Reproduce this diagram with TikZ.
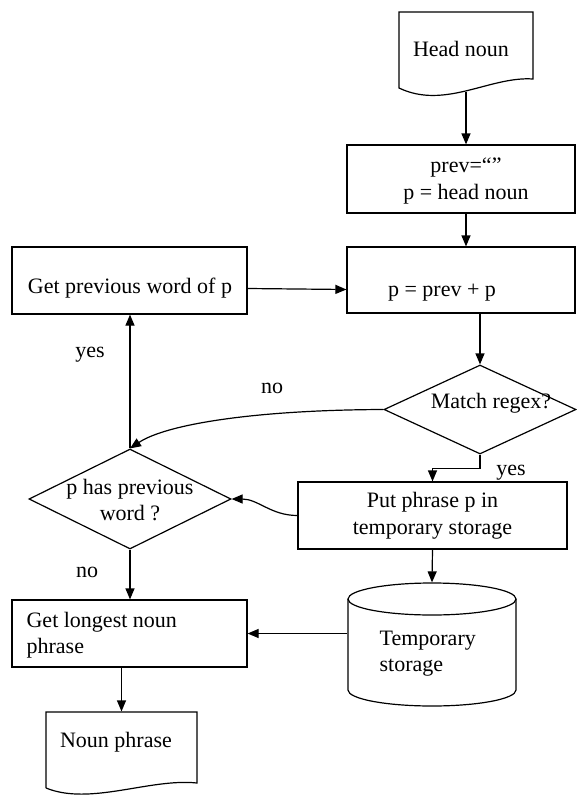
\documentclass[tikz,border=0pt]{standalone}
\usepackage{fontspec}
\setmainfont{Liberation Serif}
\usetikzlibrary{arrows.meta,shapes.geometric}
\begin{document}
\begin{tikzpicture}[x=1pt,y=-1pt,
  font=\fontsize{22}{26.5}\selectfont,
  line width=1.2pt,
  box/.style={draw, rectangle, inner sep=0pt},
  ghost/.style={rectangle, inner sep=0pt},
  lbl/.style={inner sep=0pt},
  dia/.style={draw, diamond, inner sep=0pt},
  arr/.style={-{Triangle[length=11pt,width=9pt]}}]
\useasboundingbox (0,0) rectangle (576,798);

% Head noun document
\node[ghost, minimum width=134pt, minimum height=76pt] (head) at (466,50) {};
\draw (399,12) -- (533,12) -- (533,79) .. controls (490,76) and (445,110) .. (399,88) -- cycle;
\node[lbl, anchor=base] (headt) at (461,56) {Head noun};

% prev box
\node[box, minimum width=228pt, minimum height=68pt] (prev) at (461,179) {};
\node[lbl, align=center] (prevt) at (466,181) {prev=“”\\p = head noun};

% p = prev + p
\node[box, minimum width=228pt, minimum height=66pt] (pp) at (461,280) {};
\node[lbl, anchor=base] (ppt) at (442,296) {p = prev + p};

% Get previous word of p
\node[box, minimum width=235pt, minimum height=67pt] (gp) at (129.5,280.5) {};
\node[lbl, anchor=base] (gpt) at (130,293) {Get previous word of p};

% Match regex diamond
\node[dia, minimum width=192pt, minimum height=89pt] (match) at (480,409.5) {};
\node[lbl, anchor=base] (matcht) at (491,408) {Match regex?};

% p has previous word diamond
\node[dia, minimum width=202pt, minimum height=100pt] (phas) at (130,499) {};
\node[lbl, align=center] (phast) at (130,500) {p has previous\\word ?};

% Put phrase box
\node[box, minimum width=269pt, minimum height=67pt, align=center] (put) at (432.5,515.5) {Put phrase p in\\temporary storage};

% Temporary storage cylinder
\node[ghost, minimum width=168pt, minimum height=107pt] (store) at (432,636.5) {};
\draw (348,599) -- (348,690) arc[start angle=180, end angle=0, x radius=84, y radius=16] -- (516,599);
\draw (432,599) ellipse[x radius=84, y radius=16];
\node[lbl, align=left, anchor=north west] (storet) at (379,630) {Temporary\\storage};

% Get longest noun phrase
\node[box, minimum width=235pt, minimum height=67pt] (gl) at (129.5,633.5) {};
\node[lbl, align=left, anchor=west] (glt) at (26,635) {Get longest noun\\phrase};

% Noun phrase document
\node[ghost, minimum width=151pt, minimum height=76pt] (noun) at (121.5,750) {};
\draw (46,788) -- (46,712) -- (197,712) -- (197,783) .. controls (150,778) and (90,806) .. (46,788);
\node[lbl, anchor=base] (nount) at (116,747) {Noun phrase};

% labels
\node[lbl, anchor=base] (yes1) at (90,357) {yes};
\node[lbl, anchor=base] (no1) at (272,393) {no};
\node[lbl, anchor=base] (yes2) at (511,475) {yes};
\node[lbl, anchor=base] (no2) at (87,577) {no};

% connectors
\draw[arr] ([yshift=-3pt]head.south) -- (head.south |- prev.north);
\draw[arr] (prev.south -| prevt) -- (pp.north -| prevt);
\draw[arr] (match.north |- pp.south) -- (match.north);
\draw[arr] ([yshift=-8pt]gp.east) -- ([yshift=-9.5pt]pp.west);
\draw[arr] (match.west) .. controls (250,410) and (165,425) .. (phas.north);
\draw[arr] (match.south) -- ++(0,14) -| (put.north);
\draw[arr] (put.west) to[out=180,in=0] (phas.east);
\draw[arr] (phas.north) -- (phas.north |- gp.south);
\draw[arr] (phas.south) -- (phas.south |- gl.north);
\draw[arr] (put.south) -- (store.north);
\draw[arr] (store.west |- gl.east) -- (gl.east);
\draw[arr] (gl.south -| noun) -- (noun.north);
\end{tikzpicture}
\end{document}
